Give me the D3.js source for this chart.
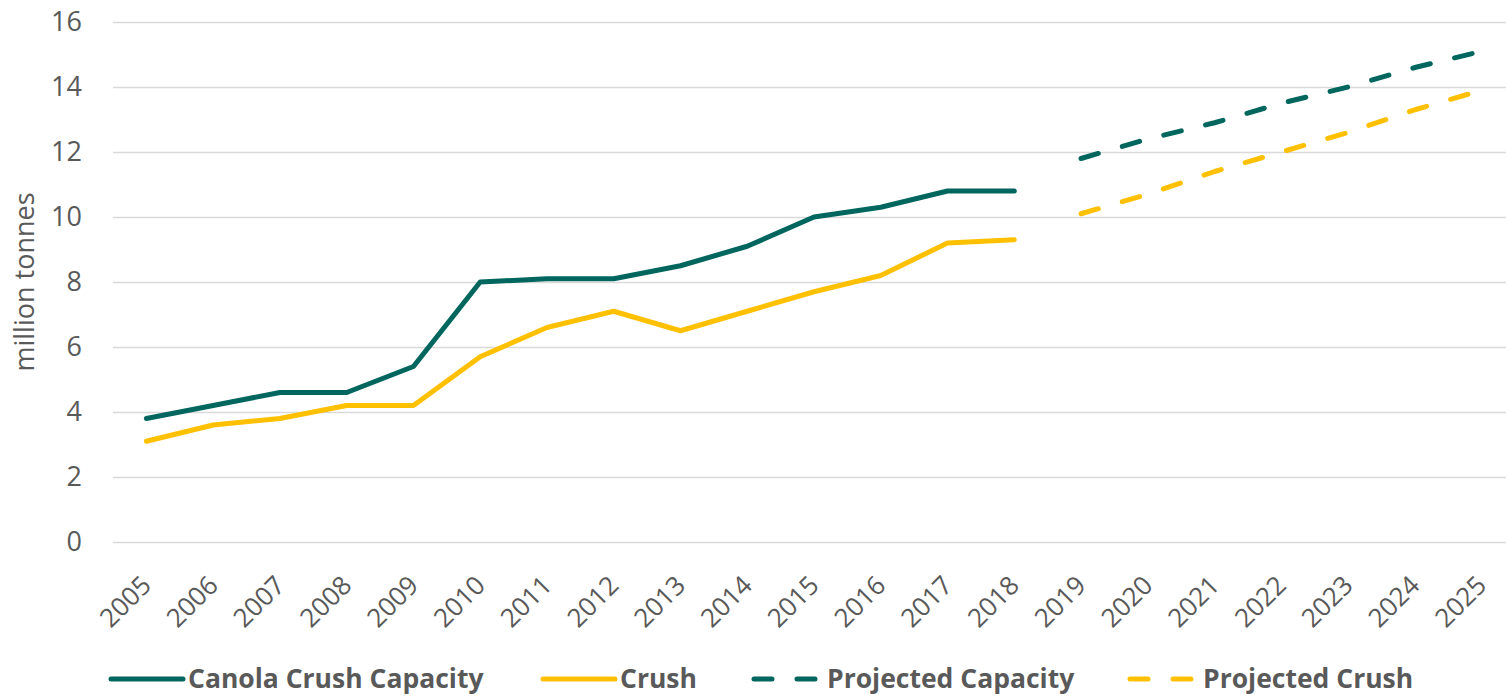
<!DOCTYPE html>
<html>
<head>
<meta charset="utf-8">
<script src="https://cdn.jsdelivr.net/npm/d3@7"></script>
<style>
  body { margin: 0; background: #fff; }
  svg { display: block; font-family: "Open Sans", sans-serif; }
  .tick text { fill: #595959; }
</style>
</head>
<body>
<svg id="chart" width="1506" height="696"></svg>
<script>
const years = d3.range(2005, 2026).map(String);
const yTicks = [0, 2, 4, 6, 8, 10, 12, 14, 16];

const capacityYears = years.slice(0, 14);           // 2005..2018
const capacity = [3.8, 4.2, 4.6, 4.6, 5.4, 8.0, 8.1, 8.1, 8.5, 9.1, 10.0, 10.3, 10.8, 10.8];
const crush    = [3.1, 3.6, 3.8, 4.2, 4.2, 5.7, 6.6, 7.1, 6.5, 7.1, 7.7, 8.2, 9.2, 9.3];

const projYears = years.slice(14);                  // 2019..2025
const projCapacity = [11.8, 12.4, 12.9, 13.5, 14.0, 14.6, 15.1];
const projCrush    = [10.1, 10.7, 11.4, 12.0, 12.6, 13.3, 13.9];

const TEAL = "#00665e";
const GOLD = "#ffc000";
const FONT = "'Open Sans', sans-serif";

const svg = d3.select("#chart");
const plotLeft = 113, plotRight = 1515, plotTop = 22, plotBottom = 542;

const x = d3.scalePoint().domain(years).range([plotLeft, plotRight]).padding(0.5);
const y = d3.scaleLinear().domain([0, 16]).range([plotBottom, plotTop]);

// gridlines + y labels
const yAxis = svg.append("g")
  .attr("transform", `translate(${plotLeft},0)`)
  .call(d3.axisLeft(y).tickValues(yTicks).tickSize(-(plotRight - plotLeft)).tickPadding(31).tickFormat(d3.format("d")))
  .attr("font-family", FONT);
yAxis.select(".domain").remove();
yAxis.selectAll(".tick line").attr("stroke", "#d9d9d9").attr("stroke-width", 1.5);
yAxis.selectAll(".tick text").attr("font-size", 27);

// x labels
const xAxis = svg.append("g")
  .attr("transform", `translate(0,${plotBottom})`)
  .call(d3.axisBottom(x).tickSize(0).tickPadding(0))
  .attr("font-family", FONT);
xAxis.select(".domain").remove();
xAxis.selectAll(".tick text")
  .attr("font-size", 26)
  .attr("text-anchor", "end")
  .attr("dy", 0)
  .attr("transform", "translate(6,45) rotate(-45)");

// y title
svg.append("text")
  .attr("transform", `translate(34,${(plotTop + plotBottom) / 2}) rotate(-90)`)
  .attr("text-anchor", "middle")
  .attr("font-size", 27)
  .attr("fill", "#595959")
  .text("million tonnes");

const line = d3.line().x(d => x(d[0])).y(d => y(d[1]));

const series = [
  { name: "Canola Crush Capacity", xs: capacityYears, vals: capacity, color: TEAL, dash: null },
  { name: "Crush", xs: capacityYears, vals: crush, color: GOLD, dash: null },
  { name: "Projected Capacity", xs: projYears, vals: projCapacity, color: TEAL, dash: "18,25" },
  { name: "Projected Crush", xs: projYears, vals: projCrush, color: GOLD, dash: "18,25" }
];

// draw crush first so capacity sits on top
[series[1], series[0], series[3], series[2]].forEach(s => {
  svg.append("path")
    .datum(d3.zip(s.xs, s.vals))
    .attr("fill", "none")
    .attr("stroke", s.color)
    .attr("stroke-width", 5)
    .attr("stroke-linecap", "round")
    .attr("stroke-linejoin", "round")
    .attr("stroke-dasharray", s.dash)
    .attr("d", line);
});

// legend
const legendY = 679;
const legendX = [111, 543, 754, 1130];
const legend = svg.append("g");
series.forEach((s, i) => {
  const g = legend.append("g").attr("transform", `translate(${legendX[i]},${legendY})`);
  g.append("line")
    .attr("x1", 0).attr("x2", s.dash ? 62 : 72)
    .attr("stroke", s.color)
    .attr("stroke-width", 5)
    .attr("stroke-linecap", "round")
    .attr("stroke-dasharray", s.dash);
  g.append("text")
    .attr("x", s.dash ? 73 : 77)
    .attr("y", 9)
    .attr("font-size", 26.5)
    .attr("font-weight", "bold")
    .attr("fill", "#595959")
    .text(s.name);
});
</script>
</body>
</html>
